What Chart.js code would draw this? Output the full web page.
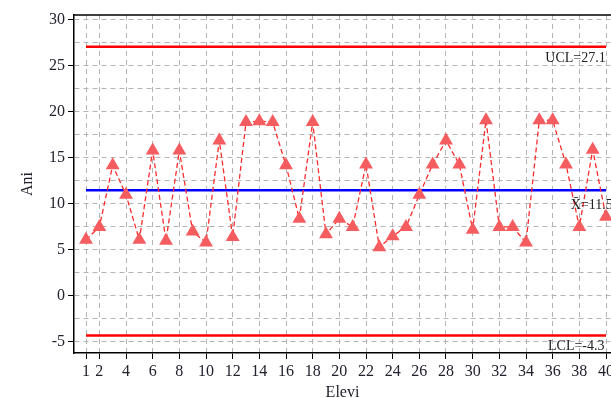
<!DOCTYPE html>
<html>
<head>
<meta charset="utf-8">
<script src="https://cdn.jsdelivr.net/npm/chart.js@4/dist/chart.umd.min.js"></script>
<style>
  html, body { margin: 0; padding: 0; background: #fff; }
  canvas { display: block; }
</style>
</head>
<body>
<canvas id="chart" width="611" height="398"></canvas>
<script>
// student numbers and measured values
var elevi = [1, 2, 3, 4, 5, 6, 7, 8, 9, 10, 11, 12, 13, 14, 15, 16, 17, 18, 19, 20,
             21, 22, 23, 24, 25, 26, 27, 28, 29, 30, 31, 32, 33, 34, 35, 36, 37, 38, 39, 40];
var ani = [6.1, 7.5, 14.2, 11.0, 6.1, 15.8, 6.0, 15.8, 7.0, 5.8,
           16.9, 6.4, 18.9, 19.0, 18.9, 14.2, 8.4, 18.9, 6.7, 8.4,
           7.5, 14.3, 5.3, 6.5, 7.5, 11.0, 14.3, 16.9, 14.3, 7.2,
           19.1, 7.5, 7.5, 5.8, 19.1, 19.1, 14.3, 7.5, 15.9, 8.6];

var ucl = 27.1;
var mean = 11.5;
var lcl = -4.3;

var xTicks = [1, 2, 4, 6, 8, 10, 12, 14, 16, 18, 20, 22, 24, 26, 28, 30, 32, 34, 36, 38, 40];
var yTicks = [-5, 0, 5, 10, 15, 20, 25, 30];

var serif = "'Liberation Serif', 'DejaVu Serif', serif";

var points = elevi.map(function(e, i) { return { x: e, y: ani[i] }; });
var first = elevi[0], last = elevi[elevi.length - 1];
function flat(v) { return [{ x: first, y: v }, { x: last, y: v }]; }

// grid every half step between labelled ticks
var yGrid = [];
yTicks.forEach(function(v, i) {
    yGrid.push(v);
    if (i < yTicks.length - 1) yGrid.push((v + yTicks[i + 1]) / 2);
});

var limitLabels = {
    id: "limitLabels",
    afterDatasetsDraw: function(chart) {
        var ctx = chart.ctx;
        var xs = chart.scales.x, ys = chart.scales.y;
        ctx.save();
        ctx.font = "14px " + serif;
        ctx.fillStyle = "#222";
        ctx.textAlign = "left";
        ctx.textBaseline = "middle";
        ctx.fillText("UCL=27.1", xs.getPixelForValue(35.45), ys.getPixelForValue(ucl) + 12);
        ctx.fillText("X\u0304=11.5", xs.getPixelForValue(37.35), ys.getPixelForValue(mean) + 15);
        ctx.fillText("LCL=-4.3", xs.getPixelForValue(35.65), ys.getPixelForValue(lcl) + 11);
        ctx.restore();
    }
};

var frame = {
    id: "frame",
    afterDraw: function(chart) {
        var a = chart.chartArea, ctx = chart.ctx;
        ctx.save();
        ctx.strokeStyle = "#000";
        ctx.lineWidth = 1.5;
        ctx.beginPath();
        ctx.moveTo(a.left, a.top);
        ctx.lineTo(chart.width, a.top);
        ctx.stroke();
        ctx.restore();
    }
};

new Chart(document.getElementById("chart").getContext("2d"), {
    type: "line",
    data: {
        datasets: [{
            data: points,
            borderColor: "#ff2a2a",
            borderWidth: 1.3,
            borderDash: [5, 3],
            pointStyle: "triangle",
            pointRadius: 8,
            pointBackgroundColor: "#f45c5f",
            pointBorderColor: "#f45c5f",
            pointBorderWidth: 0,
            clip: false,
            order: 0
        }, {
            data: flat(mean),
            borderColor: "#0000ff",
            borderWidth: 2.5,
            pointRadius: 0,
            order: 1
        }, {
            data: flat(ucl),
            borderColor: "#ff0000",
            borderWidth: 2.5,
            pointRadius: 0,
            order: 2
        }, {
            data: flat(lcl),
            borderColor: "#ff0000",
            borderWidth: 2.5,
            pointRadius: 0,
            order: 2
        }]
    },
    options: {
        responsive: false,
        animation: false,
        layout: { autoPadding: false, padding: { left: 0, top: 15, right: 0, bottom: -4 } },
        plugins: {
            legend: { display: false },
            tooltip: { enabled: false }
        },
        scales: {
            x: {
                type: "linear",
                min: 0.1,
                max: 40.375,
                afterBuildTicks: function(scale) {
                    scale.ticks = xTicks.map(function(v) { return { value: v }; });
                },
                afterFit: function(scale) {
                    scale.height = 49;
                    scale.paddingLeft = 0;
                    scale.paddingRight = 0;
                },
                ticks: {
                    autoSkip: false,
                    maxRotation: 0,
                    padding: 3,
                    color: "#22222e",
                    font: { family: serif, size: 16 }
                },
                grid: {
                    color: "#b4b4b4",
                    tickColor: "#000",
                    tickLength: 6,
                    lineWidth: 1
                },
                border: { color: "#000", width: 1.5, dash: [5, 4] },
                title: {
                    display: true,
                    text: "Elevi",
                    color: "#22222e",
                    font: { family: serif, size: 16 },
                    padding: { top: 0, bottom: 0 }
                }
            },
            y: {
                type: "linear",
                min: -6.2,
                max: 30.54,
                afterBuildTicks: function(scale) {
                    scale.ticks = yGrid.map(function(v) { return { value: v }; });
                },
                afterFit: function(scale) {
                    scale.width = 74;
                    scale.paddingTop = 0;
                    scale.paddingBottom = 0;
                },
                ticks: {
                    autoSkip: false,
                    padding: 3,
                    color: "#22222e",
                    font: { family: serif, size: 16 },
                    callback: function(v) { return yTicks.indexOf(v) >= 0 ? String(v) : ""; }
                },
                grid: {
                    color: "#b4b4b4",
                    tickColor: function(c) {
                        return c.tick && yTicks.indexOf(c.tick.value) >= 0 ? "#000" : "rgba(0,0,0,0)";
                    },
                    tickLength: 6,
                    lineWidth: 1
                },
                border: { color: "#000", width: 1.5, dash: [5, 4] },
                title: {
                    display: true,
                    text: "Ani",
                    color: "#22222e",
                    font: { family: serif, size: 16 },
                    padding: { top: 18, bottom: 0 }
                }
            }
        }
    },
    plugins: [limitLabels, frame]
});
</script>
</body>
</html>
